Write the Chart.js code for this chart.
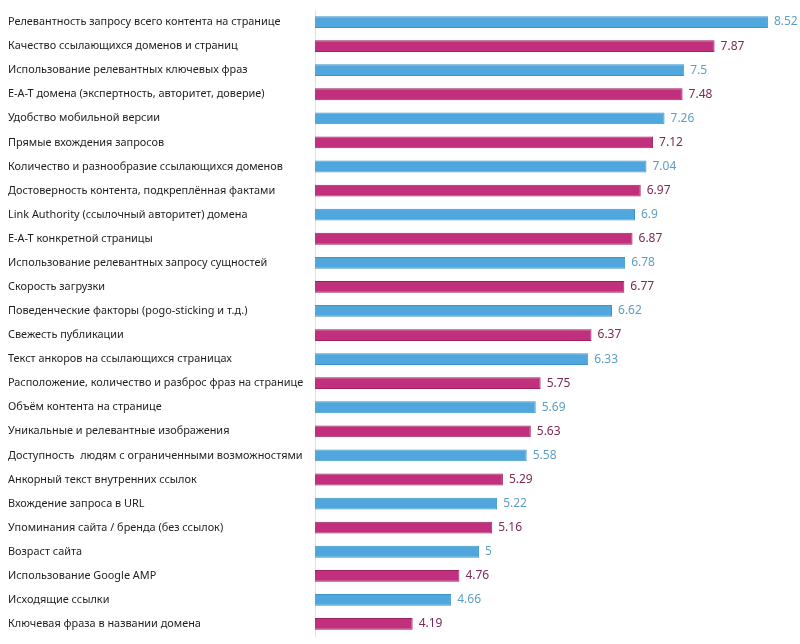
<!DOCTYPE html>
<html>
<head>
<meta charset="utf-8">
<script src="https://cdn.jsdelivr.net/npm/chart.js@4"></script>
<style>
  html, body { margin: 0; padding: 0; background: #fff; }
  #wrap { width: 800px; height: 644px; }
</style>
</head>
<body>
<div id="wrap"><canvas id="chart"></canvas></div>
<script>
const factors = [
  'Релевантность запросу всего контента на странице',
  'Качество ссылающихся доменов и страниц',
  'Использование релевантных ключевых фраз',
  'E-A-T домена (экспертность, авторитет, доверие)',
  'Удобство мобильной версии',
  'Прямые вхождения запросов',
  'Количество и разнообразие ссылающихся доменов',
  'Достоверность контента, подкреплённая фактами',
  'Link Authority (ссылочный авторитет) домена',
  'E-A-T конкретной страницы',
  'Использование релевантных запросу сущностей',
  'Скорость загрузки',
  'Поведенческие факторы (pogo-sticking и т.д.)',
  'Свежесть публикации',
  'Текст анкоров на ссылающихся страницах',
  'Расположение, количество и разброс фраз на странице',
  'Объём контента на странице',
  'Уникальные и релевантные изображения',
  'Доступность  людям с ограниченными возможностями',
  'Анкорный текст внутренних ссылок',
  'Вхождение запроса в URL',
  'Упоминания сайта / бренда (без ссылок)',
  'Возраст сайта',
  'Использование Google AMP',
  'Исходящие ссылки',
  'Ключевая фраза в названии домена'
];

const scores = [8.52, 7.87, 7.5, 7.48, 7.26, 7.12, 7.04, 6.97, 6.9, 6.87, 6.78, 6.77, 6.62,
  6.37, 6.33, 5.75, 5.69, 5.63, 5.58, 5.29, 5.22, 5.16, 5, 4.76, 4.66, 4.19];

const fillBlue = '#4fa7dd';
const fillPink = '#c1307d';
const lineBlue = '#3f93c8';
const linePink = '#9c225f';
const textBlue = '#5f9ec4';
const textPink = '#7d2856';

const pick = (i, a, b) => i % 2 ? b : a;

// подписи значений справа от столбцов
const valueLabels = {
  id: 'valueLabels',
  afterDatasetsDraw(chart) {
    const ctx = chart.ctx;
    const meta = chart.getDatasetMeta(0);
    ctx.save();
    ctx.font = '12px "Noto Sans", sans-serif';
    ctx.textBaseline = 'middle';
    ctx.textAlign = 'left';
    meta.data.forEach((bar, i) => {
      ctx.fillStyle = pick(i, textBlue, textPink);
      ctx.fillText(String(scores[i]), bar.x + 6, bar.y);
    });
    ctx.restore();
  }
};

new Chart(document.getElementById('chart'), {
  type: 'bar',
  data: {
    labels: factors,
    datasets: [{
      data: scores,
      backgroundColor: (c) => pick(c.dataIndex, fillBlue, fillPink),
      borderColor: (c) => pick(c.dataIndex, lineBlue, linePink),
      borderWidth: 1,
      borderSkipped: false,
      categoryPercentage: 0.49,
      barPercentage: 1
    }]
  },
  options: {
    indexAxis: 'y',
    responsive: true,
    maintainAspectRatio: false,
    animation: false,
    layout: { padding: { left: 8, right: 5, top: 10, bottom: 8 } },
    plugins: {
      legend: { display: false },
      tooltip: { enabled: false }
    },
    scales: {
      x: {
        display: false,
        min: 3,
        max: 8.85
      },
      y: {
        afterFit: (scale) => { scale.width = 307; },
        grid: { display: false },
        border: { display: true, color: '#e2e2e2', width: 1 },
        ticks: {
          crossAlign: 'far',
          autoSkip: false,
          color: '#1e1e1e',
          padding: 0,
          font: { family: '"Noto Sans", sans-serif', size: 10.9 }
        }
      }
    }
  },
  plugins: [valueLabels]
});
</script>
</body>
</html>
